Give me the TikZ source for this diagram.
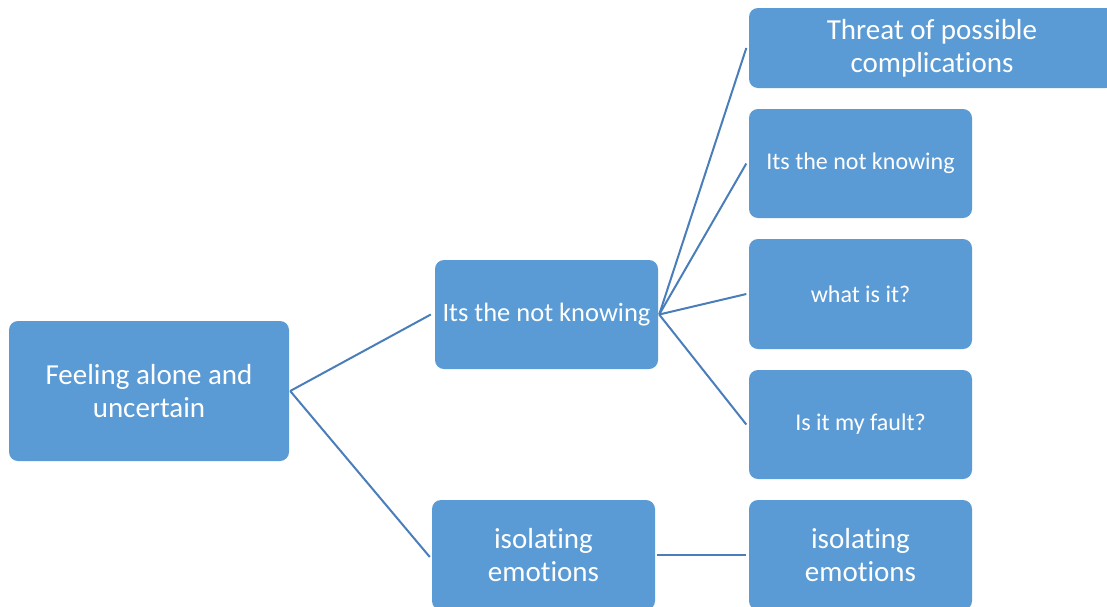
\documentclass[tikz,border=0pt]{standalone}
\usepackage{fontspec}
\setmainfont[Ligatures={NoCommon}]{Carlito}
\definecolor{boxfill}{HTML}{5B9BD5}
\definecolor{linkcol}{HTML}{4A7EBB}
\tikzset{
  card/.style={fill=boxfill, draw=none, rounded corners=9pt, text=white,
    align=center, inner sep=0pt, anchor=center},
  bigtext/.style={font=\fontsize{29}{33}\selectfont},
  midtext/.style={font=\fontsize{26.5}{31}\selectfont},
  smalltext/.style={font=\fontsize{24}{28}\selectfont},
  link/.style={draw=linkcol, line width=2pt}
}
\begin{document}
\begin{tikzpicture}[x=1pt, y=-1pt]
  \clip (0,0) rectangle (1107,606);
  \fill[white] (0,0) rectangle (1107,606);

  % root and second level
  \node[card, bigtext, minimum width=280pt, minimum height=140pt] (root) at (149,391) {Feeling alone and\\uncertain};
  \node[card, midtext, minimum width=223pt, minimum height=109pt] (know) at (546.5,314.5) {Its the not knowing};
  \node[card, bigtext, minimum width=223pt, minimum height=110pt] (iso) at (543.5,555) {isolating\\emotions};

  % third level
  \node[card, bigtext, minimum width=366pt, minimum height=80pt] (threat) at (932,48) {Threat of possible\\complications};
  \node[card, smalltext, minimum width=223pt, minimum height=109pt] (know2) at (860.5,163.5) {Its the not knowing};
  \node[card, smalltext, minimum width=223pt, minimum height=110pt] (what) at (860.5,294) {what is it?};
  \node[card, smalltext, minimum width=223pt, minimum height=109pt] (fault) at (860.5,424.5) {Is it my fault?};
  \node[card, bigtext, minimum width=223pt, minimum height=110pt] (iso2) at (860.5,555) {isolating\\emotions};

  % connectors
  \draw[link] ([xshift=1pt]root.east) -- ([xshift=-4pt]know.west);
  \draw[link] ([xshift=1pt]root.east) -- ([xshift=-2pt,yshift=-2pt]iso.west);
  \draw[link] ([xshift=1pt]know.east) -- ([xshift=-2.5pt]threat.west);
  \draw[link] ([xshift=1pt]know.east) -- ([xshift=-2.5pt]know2.west);
  \draw[link] ([xshift=1pt]know.east) -- ([xshift=-2.5pt]what.west);
  \draw[link] ([xshift=1pt]know.east) -- ([xshift=-2.5pt]fault.west);
  \draw[link] ([xshift=2pt]iso.east) -- ([xshift=-2.5pt]iso2.west);
\end{tikzpicture}
\end{document}
